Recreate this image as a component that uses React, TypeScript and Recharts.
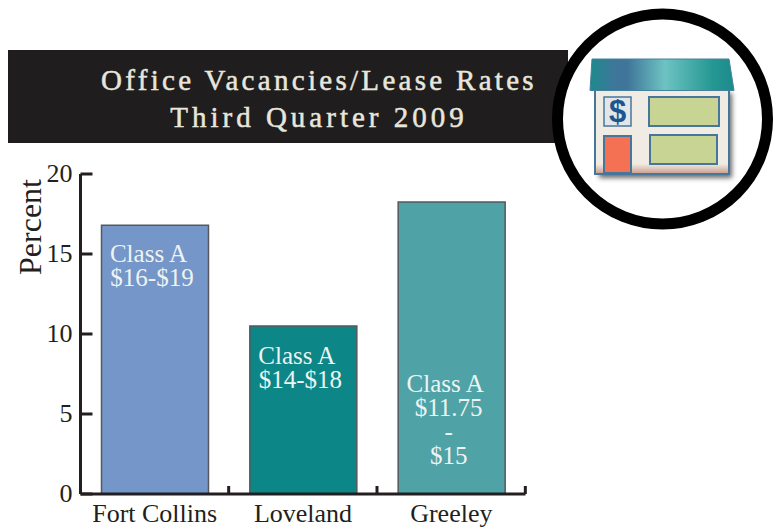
import React from 'react';
import { BarChart, Bar, XAxis, YAxis, Cell, LabelList } from 'recharts';

const cities = ['Fort Collins', 'Loveland', 'Greeley'];
const vacancy = [16.8, 10.5, 18.25];
const leaseLabels = [
  ['Class A', '$16-$19'],
  ['Class A', '$14-$18'],
  ['Class A', '$11.75', '-', '$15'],
];
const percentTicks = [0, 5, 10, 15, 20];
const titleLines = ['Office Vacancies/Lease Rates', 'Third Quarter 2009'];

const barColors = ['#7596c8', '#0c8686', '#4fa3a6'];
const labelTop = [29, 30, 182];
const SERIF = '"Liberation Serif", "Times New Roman", serif';
const INK = '#231f20';

const chartData = cities.map((city, i) => ({ city, vacancy: vacancy[i], lines: leaseLabels[i] }));

// recharts hands ticks over 8px off the axis, the marks here go inward
const YTick = ({ x, y, payload }: any) => (
  <g>
    <line x1={x + 8} x2={x + 20} y1={y} y2={y} stroke={INK} strokeWidth={3} />
    <text x={x} y={y + 8} textAnchor="end" fontSize={26} fontFamily={SERIF} fill={INK}>
      {payload.value}
    </text>
  </g>
);

const XTick = ({ x, y, payload }: any) => (
  <g>
    <line x1={x + 74} x2={x + 74} y1={y - 16} y2={y - 8} stroke={INK} strokeWidth={3} />
    <text x={x} y={y + 20} textAnchor="middle" fontSize={26} fontFamily={SERIF} fill={INK}>
      {payload.value}
    </text>
  </g>
);

const PercentLabel = ({ viewBox }: any) => (
  <text
    transform={`translate(41 ${viewBox.y + 53}) rotate(-90)`}
    textAnchor="middle"
    fontSize={32}
    fontFamily={SERIF}
    fill={INK}
  >
    Percent
  </text>
);

const LeaseLabel = ({ x, y, width, index, value }: any) => {
  const lines = value as string[];
  return (
    <text textAnchor="middle" fontSize={25} fontFamily={SERIF} fill="#eef3f3">
      {lines.map((line, i) => (
        <tspan key={i} x={x + width / 2 - (i === 0 ? 6.5 : 3)} y={y + labelTop[index] + 8 + i * 24}>
          {line}
        </tspan>
      ))}
    </text>
  );
};

const Icon = () => (
  <svg width={775} height={530} style={{ position: 'absolute', left: 0, top: 0 }}>
    <defs>
      <linearGradient id="roof" x1="0" x2="1" y1="0" y2="0">
        <stop offset="0" stopColor="#1c8a8c" />
        <stop offset="0.18" stopColor="#40759a" />
        <stop offset="0.26" stopColor="#40759a" />
        <stop offset="0.52" stopColor="#6dc3c2" />
        <stop offset="0.85" stopColor="#259893" />
        <stop offset="1" stopColor="#1c8a8c" />
      </linearGradient>
      <linearGradient id="wall" x1="0" x2="0" y1="0" y2="1">
        <stop offset="0" stopColor="#f0ece4" />
        <stop offset="0.88" stopColor="#f0ece4" />
        <stop offset="1" stopColor="#c99a88" />
      </linearGradient>
      <filter id="shade" x="-10%" y="-10%" width="125%" height="125%">
        <feGaussianBlur stdDeviation="2.5" />
      </filter>
    </defs>
    <rect x={8} y={50} width={560} height={93} fill="#1f1d1e" />
    <text
      textAnchor="middle"
      fontSize={29}
      fontFamily={SERIF}
      fill="#e8e6dc"
      stroke="#e8e6dc"
      strokeWidth={0.5}
    >
      <tspan x={319} y={90} letterSpacing={3.3}>{titleLines[0]}</tspan>
      <tspan x={319} y={127} letterSpacing={4}>{titleLines[1]}</tspan>
    </text>
    <circle cx={662.5} cy={119} r={105} fill="#fff" stroke="#000" strokeWidth={11} />
    <rect x={599} y={93} width={133} height={85} fill="#444" opacity={0.8} filter="url(#shade)" />
    <rect x={595} y={90} width={134} height={84} fill="url(#wall)" stroke="#47769c" strokeWidth={2} />
    <polygon points="592,59 729,59 734,90.5 590,90.5" fill="url(#roof)" stroke="#47809c" strokeWidth={1} />
    <rect x={604} y={97} width={27} height={29} fill="#e3e6e8" stroke="#47769c" strokeWidth={1.5} />
    <text x={617.5} y={122} textAnchor="middle" fontSize={31} fontWeight="bold" fontFamily={'"Liberation Sans", sans-serif'} fill="#1d5590">$</text>
    <rect x={604} y={136} width={27} height={37} fill="#f47153" stroke="#47769c" strokeWidth={2} />
    <rect x={649} y={97} width={70} height={29} fill="#c8d494" stroke="#47769c" strokeWidth={2} />
    <rect x={650} y={135} width={67} height={29} fill="#c8d494" stroke="#47769c" strokeWidth={2} />
  </svg>
);

export default function App() {
  return (
    <div style={{ position: 'absolute', left: 0, top: 0, width: 775, height: 530, background: '#fff' }}>
      <BarChart
        width={775}
        height={530}
        data={chartData}
        margin={{ top: 174, right: 249.5, bottom: 0, left: 0 }}
        barCategoryGap={0}
      >
        <XAxis
          dataKey="city"
          height={36}
          interval={0}
          tick={<XTick />}
          tickLine={false}
          axisLine={{ stroke: INK, strokeWidth: 3 }}
        />
        <YAxis
          width={80.5}
          domain={[0, 20]}
          ticks={percentTicks}
          interval={0}
          tick={<YTick />}
          tickLine={false}
          axisLine={{ stroke: INK, strokeWidth: 3 }}
          label={<PercentLabel />}
        />
        <Bar dataKey="vacancy" barSize={107} stroke="#55585c" strokeWidth={1.5} isAnimationActive={false}>
          {chartData.map((d, i) => (
            <Cell key={d.city} fill={barColors[i]} />
          ))}
          <LabelList dataKey="lines" content={<LeaseLabel />} />
        </Bar>
      </BarChart>
      <Icon />
    </div>
  );
}
